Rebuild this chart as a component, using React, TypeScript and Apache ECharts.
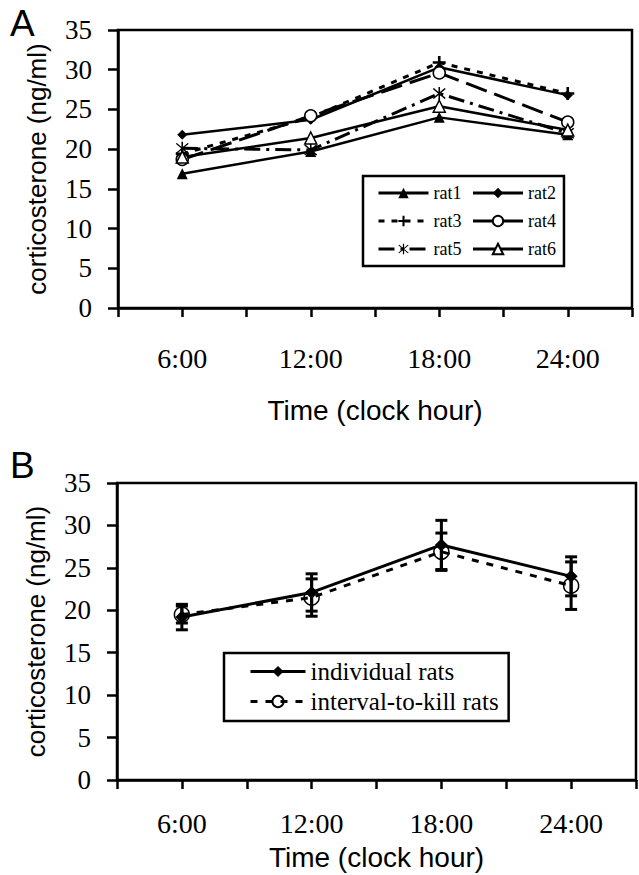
import React, { useEffect, useRef } from "react";
import * as echarts from "echarts";

// ---------- data ----------
const hours = [6, 12, 18, 24];
const rat1 = [16.9, 19.7, 24.0, 21.8];
const rat2 = [21.8, 23.7, 30.3, 26.8];
const rat3 = [19.4, 24.0, 30.9, 27.0];
const rat4 = [18.7, 24.2, 29.6, 23.4];
const rat5 = [20.1, 19.9, 27.0, 22.0];
const rat6 = [19.0, 21.4, 25.4, 22.4];

const indMean = [19.2, 22.1, 27.7, 24.0];
const indErr = [1.5, 2.2, 2.9, 2.3];
const itkMean = [19.5, 21.5, 26.9, 22.9];
const itkErr = [1.0, 2.2, 2.2, 2.8];

const yTicks = [0, 5, 10, 15, 20, 25, 30, 35];

const SERIF = "'Liberation Serif', 'Times New Roman', serif";
const SANS = "'Liberation Sans', Arial, sans-serif";

const PLUS = "path://M4,0H6V4H10V6H6V10H4V6H0V4H4Z";
const STAR =
  "path://M4.5,0H5.5V10H4.5Z M1.5,0.8L9.2,8.5L8.5,9.2L0.8,1.5Z M8.5,0.8L9.2,1.5L1.5,9.2L0.8,8.5Z";

const pts = (vals: number[]) => hours.map((h, i) => [h, vals[i]]);

function xAxisCfg(gridIndex: number, labelMargin: number, nameGap: number) {
  return {
    type: "value",
    gridIndex,
    min: 3,
    max: 27,
    interval: 3,
    name: "Time (clock hour)",
    nameLocation: "middle",
    nameGap,
    nameTextStyle: { fontFamily: SANS, fontSize: 28, color: "#000" },
    axisLine: { show: true, onZero: false, lineStyle: { color: "#000", width: 2.5 } },
    axisTick: { show: true, inside: false, length: 9, lineStyle: { color: "#000", width: 2.5 } },
    splitLine: { show: false },
    axisLabel: {
      margin: labelMargin,
      fontFamily: SERIF,
      fontSize: 28,
      color: "#000",
      formatter: (v: number) => (hours.includes(v) ? v + ":00" : ""),
    },
  };
}

function yAxisCfg(gridIndex: number) {
  return {
    type: "value",
    gridIndex,
    min: 0,
    max: 35,
    interval: 5,
    name: "corticosterone (ng/ml)",
    nameLocation: "middle",
    nameGap: 68,
    nameTextStyle: { fontFamily: SANS, fontSize: 26, color: "#000" },
    axisLine: { show: true, onZero: false, lineStyle: { color: "#000", width: 2.5 } },
    axisTick: { show: true, inside: false, length: 10, lineStyle: { color: "#000", width: 2.5 } },
    splitLine: { show: false },
    axisLabel: {
      margin: 26,
      fontFamily: SERIF,
      fontSize: 27,
      color: "#000",
      formatter: (v: number) => (yTicks.includes(v) ? String(v) : ""),
    },
  };
}

function lineSeries(name: string, data: number[], symbol: string, size: number, lineType: any, width: number, hollow: boolean) {
  return {
    type: "line",
    name,
    xAxisIndex: 0,
    yAxisIndex: 0,
    data: pts(data),
    symbol,
    symbolSize: size,
    showSymbol: true,
    lineStyle: { color: "#000", width, type: lineType },
    itemStyle: hollow
      ? { color: "#fff", borderColor: "#000", borderWidth: 1.5 }
      : { color: "#000", borderColor: "#000", borderWidth: 0 },
    z: 3,
  };
}

function errorSeries(name: string, mean: number[], err: number[]) {
  return {
    type: "custom",
    name,
    xAxisIndex: 1,
    yAxisIndex: 1,
    encode: { x: 0, y: [1, 2] },
    data: hours.map((h, i) => [h, mean[i] - err[i], mean[i] + err[i]]),
    z: 4,
    renderItem: (params: any, api: any) => {
      const x = api.value(0);
      const lo = api.coord([x, api.value(1)]);
      const hi = api.coord([x, api.value(2)]);
      const w = 6;
      const st = { stroke: "#000", lineWidth: 3 };
      return {
        type: "group",
        children: [
          { type: "line", shape: { x1: hi[0], y1: hi[1], x2: lo[0], y2: lo[1] }, style: st },
          { type: "line", shape: { x1: hi[0] - w, y1: hi[1], x2: hi[0] + w, y2: hi[1] }, style: st },
          { type: "line", shape: { x1: lo[0] - w, y1: lo[1], x2: lo[0] + w, y2: lo[1] }, style: st },
        ],
      };
    },
  };
}

export default function App() {
  const ref = useRef<HTMLDivElement>(null);
  useEffect(() => {
    if (!ref.current) return;
    const chart = echarts.init(ref.current, null, { renderer: "svg" });
    const option: any = {
      animation: false,
      backgroundColor: "#fff",
      grid: [
        { left: 118, top: 30, width: 514, height: 278, show: true, borderColor: "#000", borderWidth: 2.5, backgroundColor: "transparent" },
        { left: 117, top: 483, width: 520, height: 297, show: true, borderColor: "#000", borderWidth: 2.5, backgroundColor: "transparent" },
      ],
      xAxis: [xAxisCfg(0, 36, 88), xAxisCfg(1, 29, 63)],
      yAxis: [yAxisCfg(0), yAxisCfg(1)],
      legend: [
        {
          data: ["rat1", "rat2", "rat3", "rat4", "rat5", "rat6"],
          orient: "horizontal",
          left: 363,
          top: 176,
          width: 210,
          itemWidth: 50,
          itemHeight: 13,
          itemGap: 10,
          padding: [8, 8, 8, 14],
          borderColor: "#000",
          borderWidth: 2.5,
          selectedMode: false,
          lineStyle: { width: 3 },
          textStyle: { fontFamily: SERIF, fontSize: 18, color: "#000" },
        },
        {
          data: ["individual rats", "interval-to-kill rats"],
          orient: "vertical",
          left: 224,
          top: 653,
          itemWidth: 55,
          itemHeight: 14,
          itemGap: 5,
          padding: [6, 10, 7, 25],
          borderColor: "#000",
          borderWidth: 2.5,
          selectedMode: false,
          lineStyle: { width: 3 },
          textStyle: { fontFamily: SERIF, fontSize: 25, color: "#000", lineHeight: 25 },
        },
      ],
      graphic: [
        { type: "text", left: 10, top: 5, style: { text: "A", fontFamily: SANS, fontSize: 37, fill: "#000" } },
        { type: "text", left: 10, top: 447, style: { text: "B", fontFamily: SANS, fontSize: 37, fill: "#000" } },
      ],
      series: [
        lineSeries("rat1", rat1, "triangle", 11, "solid", 2.5, false),
        lineSeries("rat2", rat2, "diamond", 10, "solid", 2.5, false),
        lineSeries("rat3", rat3, PLUS, 13, [6, 7], 3, false),
        lineSeries("rat4", rat4, "circle", 12, [22, 8], 3, true),
        lineSeries("rat5", rat5, STAR, 13, [16, 6, 3, 6], 3, false),
        lineSeries("rat6", rat6, "triangle", 12, "solid", 2.5, true),
        {
          type: "line",
          name: "individual rats",
          xAxisIndex: 1,
          yAxisIndex: 1,
          data: pts(indMean),
          symbol: "diamond",
          symbolSize: 13,
          lineStyle: { color: "#000", width: 3, type: "solid" },
          itemStyle: { color: "#000" },
          z: 5,
        },
        {
          type: "line",
          name: "interval-to-kill rats",
          xAxisIndex: 1,
          yAxisIndex: 1,
          data: pts(itkMean),
          symbol: "circle",
          symbolSize: 15,
          lineStyle: { color: "#000", width: 3, type: [7, 8] },
          itemStyle: { color: "rgba(255,255,255,0)", borderColor: "#000", borderWidth: 1.5 },
          z: 5,
        },
        errorSeries("err-individual", indMean, indErr),
        errorSeries("err-itk", itkMean, itkErr),
      ],
    };
    chart.setOption(option);
    return () => chart.dispose();
  }, []);
  return <div ref={ref} style={{ position: "absolute", left: 0, top: 0, width: 639, height: 875 }} />;
}
